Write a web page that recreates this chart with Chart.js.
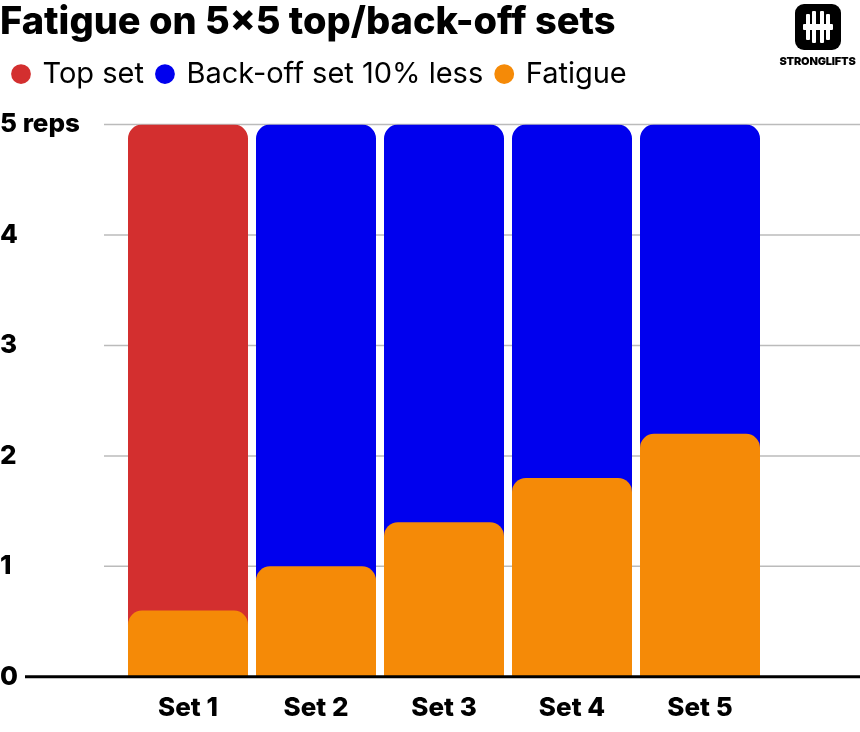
<!DOCTYPE html>
<html><head><meta charset="utf-8">
<script src="https://cdn.jsdelivr.net/npm/chart.js@4"></script>
<style>
html,body{margin:0;padding:0;background:#fff;}
#wrap{position:relative;width:860px;height:732px;}
#logo{position:absolute;left:775px;top:4px;width:85px;text-align:center;font-family:Inter,sans-serif;font-weight:900;font-size:11px;color:#000;letter-spacing:-0.2px}
#logo .box{width:46px;height:46px;background:#000;border-radius:9px;margin:0 auto 4px;position:relative}
#logo .b{position:absolute;background:#fff;border-radius:1px}
</style></head><body>
<div id="wrap"><canvas id="c" width="860" height="732"></canvas>
<div id="logo"><div class="box">
<div class="b" style="left:8px;top:20px;width:30px;height:6px"></div>
<div class="b" style="left:11px;top:10px;width:4px;height:26px"></div>
<div class="b" style="left:17px;top:7px;width:4px;height:32px"></div>
<div class="b" style="left:25px;top:7px;width:4px;height:32px"></div>
<div class="b" style="left:31px;top:10px;width:4px;height:26px"></div>
</div>STRONGLIFTS</div></div>
<script>
const categories=["Set 1","Set 2","Set 3","Set 4","Set 5"];
const topSet=[5,null,null,null,null];
const backOff=[null,5,5,5,5];
const fatigue=[0.6,1.0,1.4,1.8,2.2];
const yTickLabels=["0","1","2","3","4","5 reps"];
const rad={topLeft:14,topRight:14,bottomLeft:0,bottomRight:0};
const common={barPercentage:0.9375,categoryPercentage:1,grouped:false,borderRadius:rad,borderSkipped:'start',borderWidth:0};
const deco={id:'deco',
beforeDatasetsDraw(ch){const c=ch.ctx,ys=ch.scales.y;c.save();c.strokeStyle='#bbb';c.lineWidth=1.5;
for(let v=1;v<=5;v++){const y=ys.getPixelForValue(v);c.beginPath();c.moveTo(104,y);c.lineTo(860,y);c.stroke();}c.restore();},
afterDatasetsDraw(ch){const c=ch.ctx,y=ch.scales.y.getPixelForValue(0);c.save();c.strokeStyle='#000';c.lineWidth=3;c.beginPath();c.moveTo(25,y);c.lineTo(860,y);c.stroke();c.restore();}};
new Chart(document.getElementById('c'),{
type:'bar',
data:{labels:categories,datasets:[
{label:'Top set',data:topSet,backgroundColor:'#d32f2f',order:2,...common},
{label:'Back-off set 10% less',data:backOff,backgroundColor:'#0000ee',order:2,...common},
{label:'Fatigue',data:fatigue,backgroundColor:'#f58a07',order:1,...common}]},
options:{responsive:false,animation:false,
layout:{padding:{left:0,right:96,top:0,bottom:0}},
plugins:{
title:{display:true,text:'Fatigue on 5×5 top/back-off sets',align:'start',color:'#000',font:{family:'Inter',size:38,weight:800},padding:{top:0,bottom:0}},
legend:{align:'start',labels:{usePointStyle:true,pointStyle:'circle',boxWidth:14,boxHeight:14,color:'#000',font:{family:'Inter',size:29},padding:14,sort:(a,b)=>a.datasetIndex-b.datasetIndex},
},tooltip:{enabled:false}},
scales:{
x:{grid:{display:false},border:{display:false},
ticks:{color:'#000',font:{family:'Inter',size:26,weight:800},padding:8}},
y:{min:0,max:5,grid:{display:false},border:{display:false},
afterFit:s=>{s.width=124;},
ticks:{stepSize:1,color:'#000',crossAlign:'far',padding:8,font:{family:'Inter',size:26,weight:800},callback:v=>yTickLabels[v]}}}},
plugins:[deco,{id:'legendPad',beforeInit(ch){const f=ch.legend.fit;ch.legend.fit=function(){f.bind(this)();this.height+=26;};}}]});
</script></body></html>
